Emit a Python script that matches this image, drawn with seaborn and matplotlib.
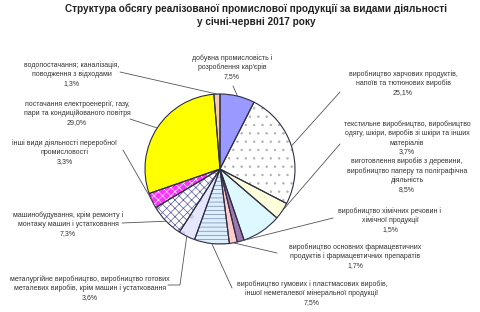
import numpy as np
import matplotlib
matplotlib.use("Agg")
import matplotlib.pyplot as plt
import seaborn as sns

# Дані
labels = [
    "добувна промисловість і\nрозроблення кар'єрів\n7,5%",
    "виробництво харчових продуктів,\nнапоїв та тютюнових виробів\n25,1%",
    "текстильне виробництво, виробництво\nодягу, шкіри, виробів зі шкіри та інших\nматеріалів\n3,7%",
    "виготовлення виробів з деревини,\nвиробництво паперу та поліграфічна\nдіяльність\n8,5%",
    "виробництво хімічних речовин і\nхімічної продукції\n1,5%",
    "виробництво основних фармацевтичних\nпродуктів і фармацевтичних препаратів\n1,7%",
    "виробництво гумових і пластмасових виробів,\nіншої неметалевої мінеральної продукції\n7,5%",
    "металургійне виробництво, виробництво готових\nметалевих виробів, крім машин і устатковання\n3,6%",
    "машинобудування, крім ремонту і\nмонтажу машин і устатковання\n7,3%",
    "інші види діяльності переробної\nпромисловості\n3,3%",
    "постачання електроенергії, газу,\nпари та кондиційованого повітря\n29,0%",
    "водопостачання; каналізація,\nповодження з відходами\n1,3%",
]
shares = [7.5, 25.1, 3.7, 8.5, 1.5, 1.7, 7.5, 3.6, 7.3, 3.3, 29.0, 1.3]

colors = ["#9999FF", "#FFFFFF", "#FFFFDD", "#DDF8FF", "#9E78B0", "#FFCCCC",
          "#DDEEFF", "#E6E6FF", "#FFFFFF", "#FF33FF", "#FFFF00", "#F8CBAD"]
hatches = ["", "..", "", "", "", "", "----", ".", "xxxx", "xxxx", "", ""]
hatch_colors = ["none", "#B0B0B0", "none", "none", "none", "none",
                "#7788AA", "#C8C8E8", "#5A5AA0", "#FFFFFF", "none", "none"]

# розташування підписів (у пікселях рисунка 480x312) і точки початку виносок
label_px = [(232, 67), (403, 83), (407, 138), (407, 175), (390, 220), (355, 256),
            (312, 293), (90, 288), (68, 224), (65, 152), (77, 113), (72, 74)]
lead_px = [(233, 86), (340, 92), (340, 144), None, (333, 218), (277, 253),
           (232, 288), (168, 285), (122, 223), (123, 150), (130, 119), (120, 72)]

W, H = 480, 312
cx, cy, R = 220, 169, 75


def to_data(p):
    return ((p[0] - cx) / R, (cy - p[1]) / R)


sns.set_theme(style="white")
plt.rcParams["font.family"] = ["Liberation Sans", "DejaVu Sans"]
plt.rcParams["hatch.linewidth"] = 0.5

fig = plt.figure(figsize=(W / 100, H / 100), dpi=100)
ax = fig.add_axes([0, 0, 1, 1])

kw = dict(startangle=90, counterclock=False, radius=1)
wedges, _ = ax.pie(shares, colors=colors, wedgeprops=dict(linewidth=0), **kw)
hw, _ = ax.pie(shares, colors=["none"] * len(shares), **kw)
for w, h, hc in zip(hw, hatches, hatch_colors):
    w.set_facecolor("none")
    w.set_hatch(h)
    w.set_edgecolor(hc)
    w.set_linewidth(0)
ew, _ = ax.pie(shares, colors=["none"] * len(shares),
               wedgeprops=dict(edgecolor="#2E2E44", linewidth=0.8), **kw)

ax.set_xlim(-cx / R, (W - cx) / R)
ax.set_ylim((cy - H) / R, cy / R)
ax.set_aspect("equal")
ax.axis("off")

# підписи і виноски
for w, lab, lp, ld in zip(wedges, labels, label_px, lead_px):
    ax.text(*to_data(lp), lab, ha="center", va="center", fontsize=5.0,
            color="#333333", linespacing=1.3)
    if ld is None:
        continue
    ang = np.deg2rad((w.theta1 + w.theta2) / 2)
    tip = (np.cos(ang), np.sin(ang))
    cs = "angle,angleA=0,angleB=82,rad=0" if lab.startswith("металург") else "arc3"
    ax.annotate("", xy=tip, xytext=to_data(ld),
                arrowprops=dict(arrowstyle="-", color="#555555", lw=0.6,
                                shrinkA=0, shrinkB=0, connectionstyle=cs))

fig.text(256 / W, 1 - 9 / H,
         "Структура обсягу реалізованої промислової продукції за видами діяльності",
         ha="center", va="center", fontsize=7.2, fontweight="bold", color="#222222")
fig.text(256 / W, 1 - 22 / H, "у січні-червні 2017 року",
         ha="center", va="center", fontsize=7.2, fontweight="bold", color="#222222")

fig.savefig("out.png", dpi=100, facecolor="white")
